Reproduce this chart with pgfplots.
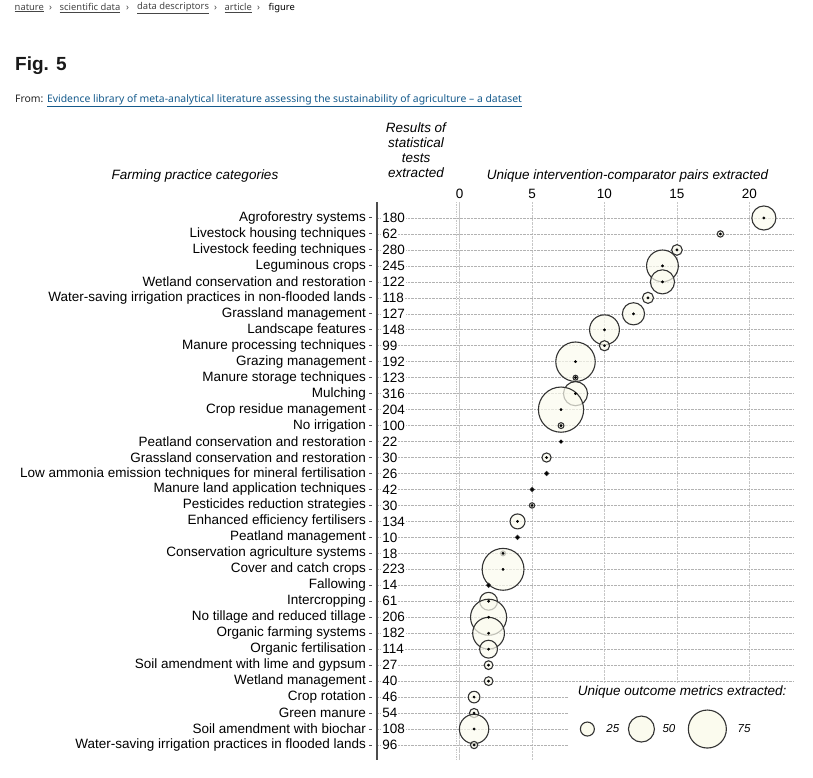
\documentclass[border=0pt]{standalone}
\usepackage{fontspec}
\setmainfont{Liberation Sans}
\newfontfamily\webfont{Noto Sans}
\usepackage{pgfplots}
\usepackage{pgfplotstable}
\pgfplotsset{compat=1.18}
\definecolor{cream}{RGB}{251,251,238}
\definecolor{linkblue}{RGB}{20,90,140}
\definecolor{crumb}{RGB}{70,70,70}

\pgfplotstableread[col sep=comma,row sep=\\]{
name,tests,x,m\\
Agroforestry systems,180,21,46\\
Livestock housing techniques,62,18,9\\
Livestock feeding techniques,280,15,18\\
Leguminous crops,245,14,62\\
Wetland conservation and restoration,122,14,46\\
Water-saving irrigation practices in non-flooded lands,118,13,19\\
Grassland management,127,12,42\\
Landscape features,148,10,58\\
Manure processing techniques,99,10,17\\
Grazing management,192,8,78\\
Manure storage techniques,123,8,6\\
Mulching,316,8,46\\
Crop residue management,204,7,90\\
No irrigation,100,7,8\\
Peatland conservation and restoration,22,7,2\\
Grassland conservation and restoration,30,6,15\\
Low ammonia emission techniques for mineral fertilisation,26,6,4\\
Manure land application techniques,42,5,4\\
Pesticides reduction strategies,30,5,7\\
Enhanced efficiency fertilisers,134,4,27\\
Peatland management,10,4,4\\
Conservation agriculture systems,18,3,6\\
Cover and catch crops,223,3,83\\
Fallowing,14,2,4\\
Intercropping,61,2,33\\
No tillage and reduced tillage,206,2,71\\
Organic farming systems,182,2,62\\
Organic fertilisation,114,2,33\\
Soil amendment with lime and gypsum,27,2,14\\
Wetland management,40,2,14\\
Crop rotation,46,1,20\\
Green manure,54,1,15\\
Soil amendment with biochar,108,1,57\\
Water-saving irrigation practices in flooded lands,96,1,11\\
}\data

\pgfplotstableread[row sep=\\]{
x y m\\
8.82 33 25\\
12.55 33 50\\
17.1 33 75\\
}\legdata

\newcommand{\cf}{\fontsize{13.5}{15}\selectfont}
\begin{document}
\begin{tikzpicture}[x=1pt,y=1pt]
\path[use as bounding box] (0,0) rectangle (813,-777);
% web header
\begin{scope}[every node/.style={anchor=west, inner sep=0pt, font=\webfont\fontsize{9.4}{11}\selectfont}]
\node[text=crumb] at (14.5,-8) {\underline{nature}};
\node[text=crumb] at (49,-8) {›};
\node[text=crumb] at (59.5,-8) {\underline{scientific data}};
\node[text=crumb] at (126,-8) {›};
\node[text=crumb] at (137,-8) {\underline{data descriptors}};
\node[text=crumb] at (214,-8) {›};
\node[text=crumb] at (224.5,-8) {\underline{article}};
\node[text=crumb] at (257,-8) {›};
\node[text=black] at (268.5,-8) {figure};
\node[text=black!85, font=\webfont\fontsize{10.4}{12}\selectfont] at (15,-101) {From: \textcolor{linkblue}{\underline{Evidence library of meta-analytical literature assessing the sustainability of agriculture – a dataset}}};
\end{scope}
\node[anchor=west, inner sep=0pt, font=\bfseries\fontsize{19}{23}\selectfont, text=black!90] at (15,-66) {Fig. 5};
% chart headings
\node[font=\cf\itshape] at (195,-176) {Farming practice categories};
\node[font=\cf\itshape, align=center, text depth=0pt] at (416,-150.5) {\fontsize{13.5}{16.4}\selectfont Results of\\statistical\\tests\\extracted};
\node[font=\cf\itshape] at (627.5,-176) {Unique intervention-comparator pairs extracted};

\begin{axis}[
  at={(377pt,-760pt)}, anchor=south west,
  scale only axis, width=416pt, height=558pt,
  xmin=-5.70, xmax=23.01,
  ymin=0, ymax=34.94, y dir=reverse,
  axis y line*=left, axis x line*=top,
  x axis line style={draw=none},
  y axis line style={draw=black!70, line width=1.3pt},
  /pgf/number format/assume math mode=true,
  tick label style={font=\cf},
  xtick={0,5,10,15,20},
  x tick style={draw=none},
  ytick={1,...,34},
  yticklabels from table={\data}{name},
  tick align=inside,
  major tick length=3pt,
  y tick style={draw=black!70, line width=1pt, xshift=-8pt},
  yticklabel style={xshift=-7.5pt},
  xmajorgrids, ymajorgrids,
  x grid style={densely dotted, black!22, line width=0.7pt},
  y grid style={densely dotted, black!30, line width=0.6pt},
  extra x ticks={-0.22,0},
  extra x tick labels={},
  extra x tick style={grid style={solid, black!65, line width=1.3pt}},
  clip=false,
]
% numbers of results
\addplot[only marks, mark=none, point meta=explicit,
  nodes near coords,
  every node near coord/.append style={anchor=west, fill=white, inner sep=1pt, font=\cf, text=black}]
  table[x expr=-5.42, y expr=\coordindex+1, meta=tests] {\data};
% circles
\addplot[scatter, only marks, mark=*,
  scatter/use mapped color={draw=black!80, fill=cream},
  visualization depends on={1+0.24*\thisrow{m} \as \perpointmarksize},
  scatter/@pre marker code/.append style={/tikz/mark size=\perpointmarksize},
  mark options={line width=1.1pt, fill opacity=0.7}]
  table[x=x, y expr=\coordindex+1] {\data};
% centre marks
\addplot[only marks, mark=*, mark size=1.2pt, black] table[x=x, y expr=\coordindex+1] {\data};
% legend
\fill[white] (axis cs:7.45,30.12) rectangle (axis cs:23.3,35.2);
\addplot[scatter, only marks, mark=*,
  scatter/use mapped color={draw=black!80, fill=cream},
  visualization depends on={1+0.24*\thisrow{m} \as \perpointmarksize},
  scatter/@pre marker code/.append style={/tikz/mark size=\perpointmarksize},
  mark options={line width=1.1pt}]
  table[x=x, y=y] {\legdata};
\node[font=\cf\itshape] at (axis cs:15.36,30.68) {Unique outcome metrics extracted:};
\node[font=\fontsize{11.5}{13}\selectfont\itshape] at (axis cs:10.57,33) {25};
\node[font=\fontsize{11.5}{13}\selectfont\itshape] at (axis cs:14.45,33) {50};
\node[font=\fontsize{11.5}{13}\selectfont\itshape] at (axis cs:19.63,33) {75};
\end{axis}
\end{tikzpicture}
\end{document}
